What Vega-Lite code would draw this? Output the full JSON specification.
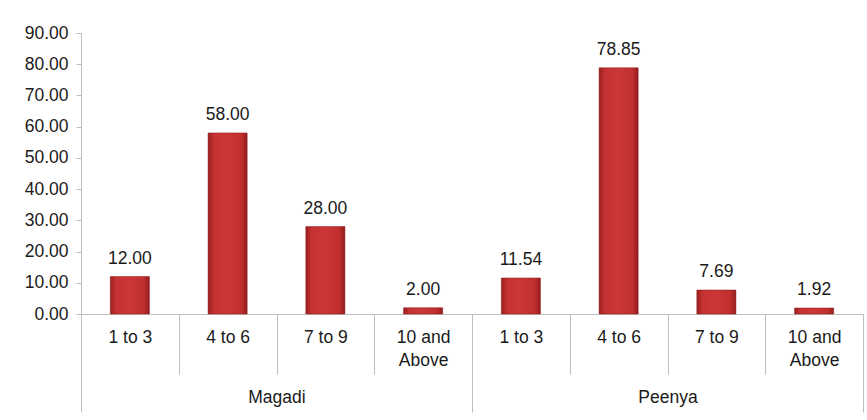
{
  "$schema": "https://vega.github.io/schema/vega-lite/v6.json",
  "width": 782,
  "height": 281,
  "autosize": {"type": "none"},
  "padding": {"left": 81, "top": 33, "right": 4, "bottom": 106},
  "data": {
    "values": [
      {"group": "Magadi", "key": "Magadi|1 to  3", "value": 12.00},
      {"group": "Magadi", "key": "Magadi|4 to 6", "value": 58.00},
      {"group": "Magadi", "key": "Magadi|7 to 9", "value": 28.00},
      {"group": "Magadi", "key": "Magadi|10 and|Above", "value": 2.00},
      {"group": "Peenya", "key": "Peenya|1 to  3", "value": 11.54},
      {"group": "Peenya", "key": "Peenya|4 to 6", "value": 78.85},
      {"group": "Peenya", "key": "Peenya|7 to 9", "value": 7.69},
      {"group": "Peenya", "key": "Peenya|10 and|Above", "value": 1.92}
    ]
  },
  "config": {
    "font": "Liberation Sans",
    "view": {"stroke": null},
    "axis": {
      "labelFont": "Liberation Sans",
      "labelFontSize": 17.5,
      "labelColor": "#1a1a1a",
      "domainColor": "#bfbfbf",
      "tickColor": "#bfbfbf",
      "grid": false,
      "title": null
    }
  },
  "layer": [
    {
      "encoding": {
        "x": {
          "field": "key",
          "type": "nominal",
          "sort": null,
          "scale": {"paddingInner": 0, "paddingOuter": 0},
          "axis": {
            "orient": "bottom",
            "labelAngle": 0,
            "tickBand": "extent",
            "tickSize": 60,
            "labelPadding": -46,
            "labelBaseline": "top",
            "labelLineHeight": 23,
            "labelExpr": "slice(split(datum.label, '|'), 1)"
          }
        },
        "y": {
          "field": "value",
          "type": "quantitative",
          "scale": {"domain": [0, 90]},
          "axis": {
            "values": [0, 10, 20, 30, 40, 50, 60, 70, 80, 90],
            "format": ".2f",
            "tickSize": 5,
            "labelPadding": 8
          }
        }
      },
      "layer": [
        {
          "mark": {
            "type": "bar",
            "width": {"band": 0.4},
            "color": {
              "gradient": "linear",
              "x1": 0, "y1": 0, "x2": 1, "y2": 0,
              "stops": [
                {"offset": 0, "color": "#9a1e1e"},
                {"offset": 0.15, "color": "#c53232"},
                {"offset": 0.5, "color": "#cc3636"},
                {"offset": 0.85, "color": "#c02f2f"},
                {"offset": 1, "color": "#941c1c"}
              ]
            },
            "stroke": "#8a1a1a",
            "strokeWidth": 0.5
          }
        },
        {
          "mark": {
            "type": "text",
            "baseline": "alphabetic",
            "dy": -13,
            "fontSize": 17.5,
            "color": "#1a1a1a",
            "font": "Liberation Sans"
          },
          "encoding": {
            "text": {"field": "value", "type": "quantitative", "format": ".2f"}
          }
        }
      ]
    },
    {
      "mark": {"type": "point", "opacity": 0},
      "encoding": {
        "x": {
          "field": "group",
          "type": "nominal",
          "sort": null,
          "scale": {"paddingInner": 0, "paddingOuter": 0},
          "axis": {
            "orient": "bottom",
            "labelAngle": 0,
            "domain": false,
            "tickBand": "extent",
            "tickSize": 98,
            "labelPadding": -24,
            "labelBaseline": "top"
          }
        }
      }
    }
  ],
  "resolve": {"scale": {"x": "independent"}, "axis": {"x": "independent"}}
}
